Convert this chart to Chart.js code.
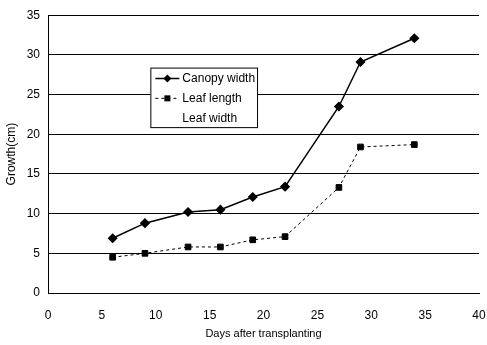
<!DOCTYPE html>
<html>
<head>
<meta charset="utf-8">
<script src="https://cdn.jsdelivr.net/npm/chart.js@4"></script>
<style>
  html, body { margin: 0; padding: 0; background: #fff; }
  #wrap { width: 487px; height: 345px; }
</style>
</head>
<body>
<div id="wrap"><canvas id="grafico"></canvas></div>
<script>
// dados
const dias = [6, 9, 13, 16, 19, 22, 27, 29, 34];
const larguraCopa = [6.9, 8.8, 10.2, 10.5, 12.1, 13.4, 23.5, 29.1, 32.1];
const comprimentoFolha = [4.5, 5.0, 5.8, 5.8, 6.7, 7.1, 13.3, 18.4, 18.7];
const larguraFolha = [];
const nomesSeries = ['Canopy width', 'Leaf length', 'Leaf width'];
const ticksY = [0, 5, 10, 15, 20, 25, 30, 35];
const ticksX = [0, 5, 10, 15, 20, 25, 30, 35, 40];

const fonte = 'Arial, "Liberation Sans", sans-serif';

function pontos(valores) {
    return valores.map((v, i) => ({ x: dias[i], y: v }));
}

// legenda desenhada dentro da área do gráfico
const legendaInterna = {
    id: 'legendaInterna',
    afterDatasetsDraw(chart) {
        const ctx = chart.ctx;
        const xs = chart.scales.x;
        const ys = chart.scales.y;
        const esq = xs.getPixelForValue(9.5);
        const dir = xs.getPixelForValue(19.4);
        const topo = ys.getPixelForValue(28.4);
        const base = ys.getPixelForValue(20.9);
        ctx.save();
        ctx.fillStyle = '#fff';
        ctx.fillRect(esq, topo, dir - esq, base - topo);
        ctx.strokeStyle = '#000';
        ctx.lineWidth = 1;
        ctx.strokeRect(esq + 0.5, topo + 0.5, dir - esq, base - topo);
        const passo = (base - topo) / 3;
        ctx.font = '12px ' + fonte;
        ctx.textBaseline = 'middle';
        chart.data.datasets.forEach((ds, i) => {
            const y = topo + passo * (i + 0.5) + 1;
            if (ds.data.length) {
                ctx.strokeStyle = ds.borderColor;
                ctx.lineWidth = ds.borderWidth;
                ctx.setLineDash(ds.borderDash || []);
                ctx.beginPath();
                ctx.moveTo(esq + 5, y);
                ctx.lineTo(esq + 29, y);
                ctx.stroke();
                ctx.setLineDash([]);
                ctx.fillStyle = '#000';
                const r = ds.pointRadius;
                if (ds.pointStyle === 'rectRot') {
                    ctx.beginPath();
                    ctx.moveTo(esq + 17, y - r);
                    ctx.lineTo(esq + 17 + r, y);
                    ctx.lineTo(esq + 17, y + r);
                    ctx.lineTo(esq + 17 - r, y);
                    ctx.closePath();
                    ctx.fill();
                } else {
                    ctx.fillRect(esq + 17 - r * 0.75, y - r * 0.75, r * 1.5, r * 1.5);
                }
            }
            ctx.fillStyle = '#000';
            ctx.fillText(ds.label, esq + 32, y);
        });
        ctx.restore();
    }
};

new Chart(document.getElementById('grafico'), {
    type: 'line',
    data: {
        datasets: [
            {
                label: nomesSeries[0],
                data: pontos(larguraCopa),
                borderColor: '#000',
                backgroundColor: '#000',
                borderWidth: 1.5,
                pointStyle: 'rectRot',
                pointRadius: 4,
                pointBackgroundColor: '#000',
                tension: 0
            },
            {
                label: nomesSeries[1],
                data: pontos(comprimentoFolha),
                borderColor: '#000',
                backgroundColor: '#000',
                borderWidth: 1,
                borderDash: [3, 3],
                pointStyle: 'rect',
                pointRadius: 4,
                pointBackgroundColor: '#000',
                tension: 0
            },
            {
                label: nomesSeries[2],
                data: pontos(larguraFolha),
                borderColor: '#000',
                borderWidth: 1,
                pointRadius: 0
            }
        ]
    },
    options: {
        responsive: true,
        maintainAspectRatio: false,
        animation: false,
        layout: { padding: { top: 10, right: 0, left: 0, bottom: 0 } },
        plugins: {
            legend: { display: false },
            tooltip: { enabled: false }
        },
        scales: {
            x: {
                type: 'linear',
                min: 0,
                max: 40,
                afterFit: (s) => { s.height = 52; s.paddingRight = 8; s.paddingLeft = 0; },
                afterBuildTicks: (s) => { s.ticks = ticksX.map(v => ({ value: v })); },
                grid: { display: false, drawTicks: false },
                border: { display: true, color: '#000', width: 1 },
                ticks: { color: '#000', font: { size: 12, family: fonte }, padding: 15 },
                title: {
                    display: true,
                    text: 'Days after transplanting',
                    color: '#000',
                    font: { size: 11, family: fonte },
                    padding: { top: 4 }
                }
            },
            y: {
                min: 0,
                max: 35,
                afterFit: (s) => { s.width = 48; },
                afterBuildTicks: (s) => { s.ticks = ticksY.map(v => ({ value: v })); },
                grid: { color: '#000', lineWidth: 1, drawTicks: false },
                border: { display: true, color: '#000', width: 1 },
                ticks: { color: '#000', font: { size: 12, family: fonte }, padding: 8 },
                title: {
                    display: true,
                    text: 'Growth(cm)',
                    color: '#000',
                    font: { size: 12, family: fonte },
                    padding: { top: 4, bottom: 0 }
                }
            }
        }
    },
    plugins: [legendaInterna]
});
</script>
</body>
</html>
